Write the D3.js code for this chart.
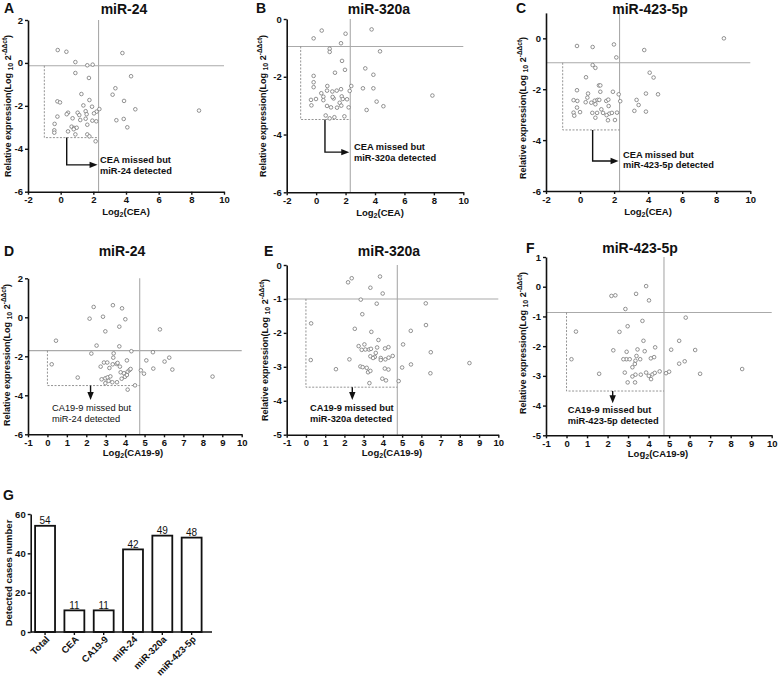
<!DOCTYPE html>
<html><head><meta charset="utf-8">
<script src="https://cdn.jsdelivr.net/npm/d3@7"></script>
<style>body{margin:0;background:#fff}svg{font-family:Arial,"Liberation Sans",sans-serif}</style>
</head><body>
<svg id="c" width="778" height="678"></svg>
<script>
// ---------- DATA ----------
const panelTitles = ["miR-24","miR-320a","miR-423-5p","miR-24","miR-320a","miR-423-5p"];
const panelLetters = ["A","B","C","D","E","F","G"];
const xTicksCEA = [-2,0,2,4,6,8,10];
const xTicksCA199 = [-1,0,1,2,3,4,5,6,7,8,9,10];
const yTicksA = [2,0,-2,-4,-6];
const yTicksB = [0,-2,-4,-6];
const yTicksC = [0,-2,-4,-6];
const yTicksD = [2,0,-2,-4,-6];
const yTicksE = [0,-1,-2,-3,-4,-5];
const yTicksF = [1,0,-1,-2,-3,-4,-5];
const cutoffCEA = 2.32, cutoffCA199 = 4.75;

// Panel A: [log2(CEA), miR-24]
const pointsA = [[-0.18,0.60],[0.35,0.52],[0.90,0.04],[1.96,-0.08],[1.63,-0.11],[0.90,-0.47],[1.73,-0.70],[3.78,0.46],[4.31,-0.62],[3.35,-1.18],[3.18,-1.48],[3.88,-1.77],[4.57,-2.16],[8.47,-2.22],[3.41,-2.67],[3.86,-2.61],[4.08,-3.0],[1.27,-1.45],[1.76,-1.73],[-0.2,-1.79],[-0.04,-1.84],[1.39,-1.98],[1.92,-2.04],[2.37,-2.15],[2.2,-2.27],[2.04,-2.35],[1.53,-2.25],[1.59,-2.39],[1.04,-2.32],[1.14,-2.43],[0.45,-2.32],[0.37,-2.39],[-0.2,-2.5],[1.2,-2.66],[1.53,-2.6],[0.73,-2.58],[1.94,-2.69],[2.18,-2.72],[-0.37,-2.84],[1.63,-2.88],[0.67,-2.97],[0.82,-3.03],[0.98,-3.02],[0.8,-3.09],[-0.39,-3.14],[-0.39,-3.25],[0.45,-3.19],[0.9,-3.33],[1.63,-3.33],[1.76,-3.42],[2.14,-3.65]];
// Panel B: [log2(CEA), miR-320a]
const pointsB = [[0.38,-0.40],[-0.17,-0.67],[2.0,-0.51],[3.77,-0.36],[1.69,-0.84],[0.92,-1.03],[0.92,-1.14],[4.34,-1.12],[1.76,-1.45],[1.96,-1.76],[1.28,-1.86],[3.34,-1.71],[3.89,-1.93],[-0.17,-1.97],[-0.17,-2.19],[-0.17,-2.36],[0.76,-2.32],[2.39,-2.32],[3.18,-2.40],[3.89,-2.40],[2.28,-2.49],[1.69,-2.43],[1.4,-2.48],[1.1,-2.51],[0.74,-2.48],[0.35,-2.57],[-0.01,-2.77],[-0.35,-2.8],[0.49,-2.69],[0.49,-2.81],[1.19,-2.75],[1.74,-2.68],[1.81,-2.77],[2.1,-2.78],[1.12,-2.7],[1.6,-2.9],[1.71,-3.0],[1.01,-3.06],[0.74,-3.01],[-0.32,-2.99],[1.42,-3.07],[2.21,-3.06],[4.11,-2.86],[4.57,-3.02],[3.43,-3.15],[7.9,-2.65],[0.65,-3.34],[0.92,-3.44],[1.24,-3.4],[1.92,-3.37]];
// Panel C: [log2(CEA), miR-423-5p]
const pointsC = [[8.45,0],[-0.18,-0.30],[0.74,-0.34],[1.99,-0.24],[2.13,-0.75],[3.77,-0.46],[0.74,-1.05],[0.9,-1.16],[0.35,-1.53],[4.09,-1.35],[4.32,-1.54],[1.11,-1.85],[1.19,-1.85],[1.93,-2.1],[-0.18,-2.04],[0.47,-2.17],[1.19,-2.1],[2.27,-2.2],[2.36,-2.47],[3.87,-2.17],[4.58,-2.2],[3.32,-2.42],[3.44,-2.62],[3.19,-2.85],[3.87,-2.88],[-0.38,-2.43],[-0.16,-2.46],[0.43,-2.33],[0.33,-2.51],[0.66,-2.53],[0.86,-2.45],[1.03,-2.42],[1.13,-2.42],[0.9,-2.59],[1.54,-2.46],[1.66,-2.41],[1.68,-2.66],[1.25,-2.79],[-0.18,-2.72],[0,-2.9],[-0.38,-2.92],[-0.34,-3.04],[0.72,-2.93],[1.0,-2.93],[0.9,-3.12],[1.35,-2.93],[1.72,-2.96],[1.87,-2.93],[2.17,-2.92],[1.56,-3.02],[1.64,-3.22],[2.05,-3.21]];
// Panel D: [log2(CA19-9), miR-24]
const pointsD = [[0.44,-1.2],[0.22,-2.41],[1.56,-3.09],[2.38,0.53],[3.37,0.62],[2.17,-0.07],[2.86,0.03],[4.01,-0.1],[3.84,0.46],[3.7,-0.48],[2.98,-0.72],[2.53,-1.45],[3.7,-1.49],[5.79,-0.62],[2.26,-1.86],[3.41,-1.85],[4.32,-1.74],[5.43,-1.79],[3.39,-2.07],[5.09,-2.21],[6.27,-2.07],[6.03,-2.27],[4.09,-2.21],[2.91,-2.32],[3.08,-2.32],[3.36,-2.41],[3.56,-2.39],[3.61,-2.34],[2.74,-2.53],[3.19,-2.6],[3.73,-2.53],[3.77,-2.82],[3.94,-2.87],[4.13,-2.79],[4.23,-2.7],[4.28,-2.65],[5.45,-2.63],[6.43,-2.68],[4.81,-2.72],[4.97,-2.89],[2.79,-3.18],[2.98,-3.13],[3.1,-3.08],[3.24,-3.03],[3.15,-3.26],[3.34,-3.33],[3.58,-3.33],[3.82,-3.15],[3.99,-3.05],[4.09,-2.96],[4.13,-3.71],[4.51,-3.49],[8.5,-3.04],[2.98,-3.38]];
// Panel E: [log2(CA19-9), miR-320a]
const pointsE = [[2.19,-0.51],[2.38,-0.39],[3.85,-0.34],[3.35,-0.67],[3.99,-0.84],[2.85,-1.02],[3.68,-1.14],[6.23,-1.13],[2.93,-1.45],[0.27,-1.72],[2.54,-1.88],[3.4,-1.97],[5.45,-1.94],[6.24,-1.77],[3.77,-2.21],[5.05,-2.34],[2.74,-2.39],[3.04,-2.34],[3.7,-2.43],[4.11,-2.46],[4.29,-2.42],[6.49,-2.57],[2.9,-2.5],[3.09,-2.49],[3.28,-2.49],[3.38,-2.47],[3.63,-2.59],[3.58,-2.71],[3.35,-2.69],[3.49,-2.74],[3.89,-2.74],[3.89,-2.8],[4.13,-2.78],[4.3,-2.73],[4.51,-2.68],[2.26,-2.78],[2.83,-2.99],[2.95,-3.01],[3.16,-3.03],[3.23,-3.16],[3.35,-3.12],[4.1,-3.05],[4.29,-3.08],[5.0,-3.02],[5.46,-2.93],[6.47,-3.19],[8.5,-2.89],[1.56,-3.07],[0.25,-2.8],[3.3,-3.48],[3.97,-3.35],[4.16,-3.4],[4.82,-3.42]];
// Panel F: [log2(CA19-9), miR-423-5p]
const pointsF = [[3.88,0.02],[2.19,-0.31],[2.38,-0.29],[3.39,-0.24],[4.02,-0.46],[2.87,-0.75],[3.7,-1.15],[5.81,-1.04],[2.98,-1.33],[0.46,-1.51],[2.58,-1.52],[3.75,-1.82],[5.49,-1.82],[2.28,-2.14],[3.46,-2.11],[3.81,-2.17],[4.32,-2.04],[5.1,-2.12],[6.27,-2.13],[0.24,-2.44],[2.93,-2.19],[2.92,-2.44],[3.08,-2.44],[3.41,-2.33],[3.59,-2.44],[4.11,-2.41],[4.27,-2.37],[2.77,-2.44],[3.36,-2.49],[3.33,-2.6],[3.21,-2.71],[5.76,-2.51],[5.49,-2.59],[2.84,-2.89],[3.36,-2.96],[3.62,-2.96],[3.88,-2.89],[4.01,-3.0],[4.19,-2.95],[4.3,-2.9],[4.54,-2.85],[4.85,-2.91],[5.0,-2.86],[1.59,-2.93],[3.21,-3.02],[2.98,-3.22],[3.34,-3.22],[4.12,-3.11],[8.56,-2.77],[6.51,-2.93]];

// Panel G
const barCategories = ["Total","CEA","CA19-9","miR-24","miR-320a","miR-423-5p"];
const barValues = [54,11,11,42,49,48];
const yTicksG = [0,20,40,60];

// ---------- DRAW ----------
const svg = d3.select("#c");
const BOLD = "bold";
const fmt = d => String(d);

function yLabel(g, cx, cy) {
  const t = g.append("text").attr("transform", `translate(${cx},${cy}) rotate(-90)`)
    .attr("text-anchor","middle").attr("font-size",9).attr("font-weight",BOLD).attr("fill","#111");
  t.append("tspan").text("Relative expression(Log ");
  t.append("tspan").attr("font-size",7).attr("dy",2).text("10");
  t.append("tspan").attr("dy",-2).text(" 2");
  t.append("tspan").attr("font-size",6.5).attr("dy",-4).text("-ΔΔct");
  t.append("tspan").attr("dy",4).text(")");
}
function xLabel(g, cx, by, name) {
  const t = g.append("text").attr("x",cx).attr("y",by).attr("text-anchor","middle")
    .attr("font-size",9.5).attr("font-weight",BOLD).attr("fill","#111");
  t.append("tspan").text("Log");
  t.append("tspan").attr("font-size",7).attr("dy",2).text("2");
  t.append("tspan").attr("dy",-2).text("(" + name + ")");
}
function styleAxis(a) {
  a.select(".domain").attr("stroke","#111").attr("stroke-width",1.6);
  a.selectAll(".tick line").attr("stroke","#111").attr("stroke-width",1.4);
  a.selectAll(".tick text").attr("font-size",9.5).attr("font-weight",BOLD).attr("fill","#111").attr("font-family","Arial, Liberation Sans, sans-serif");
}

function scatter(o) {
  const g = svg.append("g");
  const x = d3.scaleLinear().domain(o.xd).range(o.xr);
  const y = d3.scaleLinear().domain(o.yd).range(o.yr);
  g.append("line").attr("x1",o.xr[0]).attr("x2",o.xr[1]).attr("y1",y(o.ht)).attr("y2",y(o.ht))
    .attr("stroke","#aaa").attr("stroke-width",1.1);
  g.append("line").attr("x1",x(o.vt)).attr("x2",x(o.vt)).attr("y1",o.yr[0]).attr("y2",o.yr[1])
    .attr("stroke","#aaa").attr("stroke-width",1.1);
  g.append("path").attr("d",`M${x(o.bl)},${y(o.ht)}V${y(o.bb)}H${x(o.vt)}`)
    .attr("fill","none").attr("stroke","#888").attr("stroke-width",0.9).attr("stroke-dasharray","2,1.5");
  g.selectAll("circle.p").data(o.pts).join("circle").attr("class","p")
    .attr("cx",d=>x(d[0])).attr("cy",d=>y(d[1])).attr("r",1.8)
    .attr("fill","#fff").attr("stroke","#777").attr("stroke-width",0.8);
  const ax = g.append("g").attr("transform",`translate(0,${o.yr[0]})`)
    .call(d3.axisBottom(x).tickValues(o.xt).tickFormat(fmt).tickSize(3).tickSizeOuter(0).tickPadding(2));
  styleAxis(ax);
  const ay = g.append("g").attr("transform",`translate(${o.xr[0]},0)`)
    .call(d3.axisLeft(y).tickValues(o.yt).tickFormat(fmt).tickSize(3).tickSizeOuter(0).tickPadding(2));
  styleAxis(ay);
  if (o.elbow) {
    const tipX = x(o.vt) - 1, yy = y(o.ay);
    g.append("path").attr("d",`M${x(o.ax)},${y(o.bb)}V${yy}H${tipX-6}`)
      .attr("fill","none").attr("stroke","#111").attr("stroke-width",1.4);
    g.append("path").attr("d",`M${tipX},${yy}L${tipX-8},${yy-3.2}L${tipX-8},${yy+3.2}Z`).attr("fill","#111");
  } else {
    const tipY = y(o.ay), xx = x(o.ax);
    g.append("path").attr("d",`M${xx},${y(o.bb)}V${tipY-6}`)
      .attr("fill","none").attr("stroke","#111").attr("stroke-width",1.4);
    g.append("path").attr("d",`M${xx},${tipY}L${xx-3.2},${tipY-8}L${xx+3.2},${tipY-8}Z`).attr("fill","#111");
  }
  o.note.forEach((s,i)=>{
    g.append("text").attr("x",o.nx).attr("y",o.ny[i]).attr("font-size",9.3)
      .attr("font-weight",o.noteBold?BOLD:"normal").attr("fill","#111").text(s);
  });
  g.append("text").attr("x",o.tx).attr("y",o.ty).attr("text-anchor","middle")
    .attr("font-size",14).attr("font-weight",BOLD).attr("fill","#111").text(o.title);
  g.append("text").attr("x",o.lx).attr("y",o.ly).attr("font-size",14).attr("font-weight",BOLD).attr("fill","#111").text(o.letter);
  yLabel(g, o.ylx, o.yly);
  xLabel(g, o.xlx, o.xly, o.xname);
}

scatter({pts:pointsA, xd:[-2,10], xr:[28,224], yd:[-6,2], yr:[191.7,20], xt:xTicksCEA, yt:yTicksA,
  ht:-0.13, vt:cutoffCEA, bl:-1, bb:-3.48, elbow:true, ax:0.37, ay:-4.75,
  note:["CEA missed but","miR-24 detected"], nx:100, ny:[162.7,173.5], noteBold:true,
  title:panelTitles[0], tx:124, ty:14, letter:panelLetters[0], lx:4, ly:13,
  ylx:11, yly:106, xlx:126, xly:215, xname:"CEA"});
scatter({pts:pointsB, xd:[-2,10], xr:[286.7,463.3], yd:[-6,0], yr:[192.3,19], xt:xTicksCEA, yt:yTicksB,
  ht:-0.95, vt:cutoffCEA, bl:-1.05, bb:-3.48, elbow:true, ax:0.6, ay:-4.61,
  note:["CEA missed but","miR-320a detected"], nx:354, ny:[150,160.5], noteBold:true,
  title:panelTitles[1], tx:379, ty:14, letter:panelLetters[1], lx:256, ly:13,
  ylx:266, yly:106, xlx:380, xly:216, xname:"CEA"});
scatter({pts:pointsC, xd:[-2,10], xr:[546,750.3], yd:[-6,1], yr:[191,12.9], xt:xTicksCEA, yt:yTicksC,
  ht:-0.96, vt:cutoffCEA, bl:-1.02, bb:-3.6, elbow:true, ax:0.74, ay:-4.82,
  note:["CEA missed but","miR-423-5p detected"], nx:623, ny:[157.7,167.8], noteBold:true,
  title:panelTitles[2], tx:650, ty:14, letter:panelLetters[2], lx:516, ly:13,
  ylx:526, yly:108, xlx:648, xly:215, xname:"CEA"});
scatter({pts:pointsD, xd:[-1,10], xr:[28,241.7], yd:[-6,2], yr:[434.3,278.3], xt:xTicksCA199, yt:yTicksD,
  ht:-1.71, vt:cutoffCA199, bl:0, bb:-3.5, elbow:false, ax:2.22, ay:-4.24,
  note:["CA19-9 missed but","miR-24 detected"], nx:52, ny:[410.7,421.5], noteBold:false,
  title:panelTitles[3], tx:122, ty:256, letter:panelLetters[3], lx:4, ly:256,
  ylx:10, yly:355, xlx:133, xly:456, xname:"CA19-9"});
scatter({pts:pointsE, xd:[-1,10], xr:[286.7,498.3], yd:[-5,0], yr:[434.7,265], xt:xTicksCA199, yt:yTicksE,
  ht:-1.0, vt:cutoffCA199, bl:0, bb:-3.6, elbow:false, ax:2.41, ay:-3.98,
  note:["CA19-9 missed but","miR-320a detected"], nx:310, ny:[410.7,422], noteBold:true,
  title:panelTitles[4], tx:389, ty:256, letter:panelLetters[4], lx:264, ly:256,
  ylx:268, yly:350, xlx:392, xly:456, xname:"CA19-9"});
scatter({pts:pointsF, xd:[-1,10], xr:[546,771.7], yd:[-5,1], yr:[435.3,257], xt:xTicksCA199, yt:yTicksF,
  ht:-0.87, vt:cutoffCA199, bl:0, bb:-3.51, elbow:false, ax:2.25, ay:-3.92,
  note:["CA19-9 missed but","miR-423-5p detected"], nx:567.7, ny:[413.3,424.3], noteBold:true,
  title:panelTitles[5], tx:640, ty:253, letter:panelLetters[5], lx:526, ly:253,
  ylx:526, yly:343, xlx:658, xly:457, xname:"CA19-9"});

// ---------- Panel G ----------
(function(){
  const g = svg.append("g");
  const x = d3.scaleBand().domain(barCategories).range([30.7,206]).paddingInner(0.32).paddingOuter(0.15);
  const y = d3.scaleLinear().domain([0,60]).range([632,514]);
  g.selectAll("rect.b").data(barValues).join("rect").attr("class","b")
    .attr("x",(d,i)=>x(barCategories[i])).attr("width",x.bandwidth())
    .attr("y",d=>y(d)).attr("height",d=>y(0)-y(d))
    .attr("fill","#fff").attr("stroke","#111").attr("stroke-width",1.8);
  g.selectAll("text.v").data(barValues).join("text").attr("class","v")
    .attr("x",(d,i)=>x(barCategories[i])+x.bandwidth()/2).attr("y",d=>y(d)-1.5)
    .attr("text-anchor","middle").attr("font-size",10).attr("fill","#111").text(d=>d);
  const ay = g.append("g").attr("transform","translate(30.7,0)")
    .call(d3.axisLeft(y).tickValues(yTicksG).tickFormat(fmt).tickSize(3).tickSizeOuter(0).tickPadding(2));
  styleAxis(ay);
  const ax = g.append("g").attr("transform","translate(0,632)")
    .call(d3.axisBottom(x).tickSize(3).tickSizeOuter(0));
  styleAxis(ax);
  ax.select(".domain").attr("d","M30.7,0H212");
  ax.selectAll(".tick text").attr("text-anchor","end").attr("dy",0).attr("y",0)
    .attr("transform","translate(5,8) rotate(-45)");
  g.append("text").attr("transform","translate(12,573) rotate(-90)").attr("text-anchor","middle")
    .attr("font-size",9.5).attr("font-weight",BOLD).attr("fill","#111").text("Detected cases number");
  g.append("text").attr("x",3).attr("y",500).attr("font-size",14).attr("font-weight",BOLD).attr("fill","#111").text(panelLetters[6]);
})();
</script>
</body></html>
